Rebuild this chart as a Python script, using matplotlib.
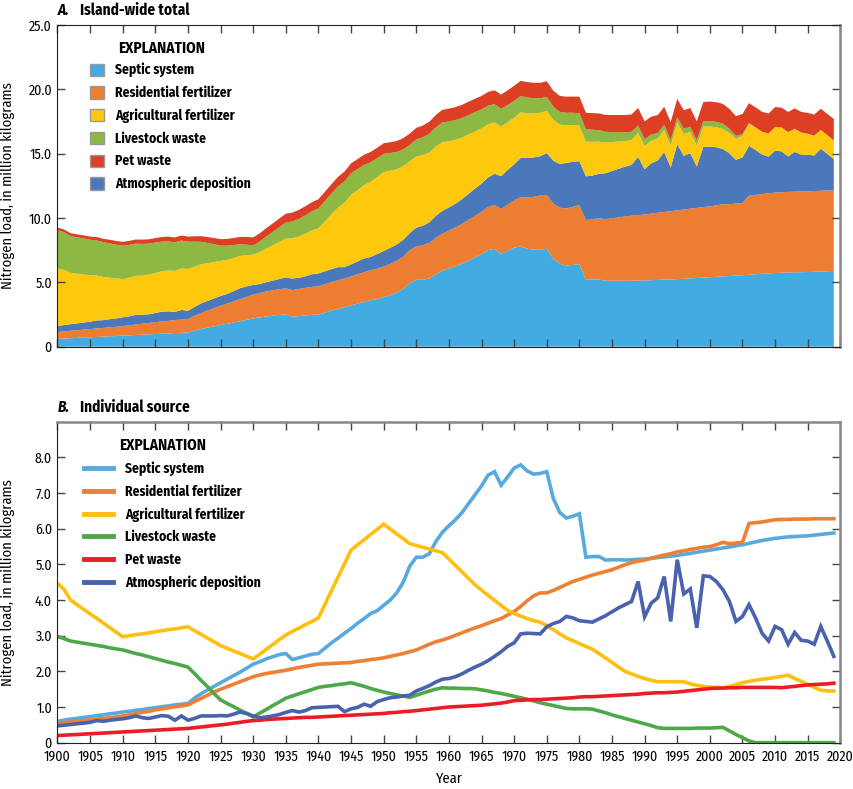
import numpy as np
import matplotlib
matplotlib.use("Agg")
import matplotlib.pyplot as plt
from matplotlib.patches import Patch
from matplotlib.lines import Line2D
from matplotlib.ticker import FuncFormatter, MultipleLocator

plt.rcParams['font.family'] = ['Fira Sans Condensed', 'DejaVu Sans']

years = np.arange(1900, 2020)

# nitrogen load by source, million kg
septic = [0.60, 0.63, 0.66, 0.68, 0.71, 0.73, 0.76, 0.78, 0.81, 0.83,
          0.86, 0.88, 0.91, 0.93, 0.96, 0.98, 1.01, 1.03, 1.06, 1.08,
          1.10, 1.25, 1.37, 1.48, 1.58, 1.68, 1.78, 1.88, 1.98, 2.09,
          2.20, 2.27, 2.35, 2.41, 2.47, 2.50, 2.33, 2.38, 2.43, 2.48,
          2.50, 2.65, 2.80, 2.93, 3.07, 3.20, 3.35, 3.48, 3.62, 3.70,
          3.85, 4.00, 4.20, 4.50, 4.95, 5.20, 5.20, 5.30, 5.64, 5.90,
          6.08, 6.25, 6.45, 6.70, 6.95, 7.20, 7.50, 7.60, 7.22, 7.45,
          7.70, 7.79, 7.62, 7.53, 7.55, 7.60, 6.85, 6.45, 6.30, 6.35,
          6.42, 5.20, 5.22, 5.22, 5.12, 5.13, 5.13, 5.12, 5.13, 5.14,
          5.15, 5.17, 5.19, 5.21, 5.23, 5.25, 5.28, 5.31, 5.34, 5.37,
          5.40, 5.43, 5.46, 5.49, 5.52, 5.55, 5.59, 5.63, 5.67, 5.70,
          5.73, 5.75, 5.77, 5.78, 5.79, 5.80, 5.82, 5.84, 5.86, 5.88]

residential = [0.54, 0.56, 0.58, 0.60, 0.62, 0.64, 0.66, 0.68, 0.70, 0.72,
               0.75, 0.78, 0.82, 0.85, 0.88, 0.92, 0.95, 0.98, 1.01, 1.03,
               1.06, 1.15, 1.24, 1.33, 1.42, 1.50, 1.57, 1.64, 1.71, 1.78,
               1.85, 1.90, 1.94, 1.97, 2.00, 2.03, 2.07, 2.11, 2.14, 2.17,
               2.20, 2.21, 2.22, 2.23, 2.24, 2.25, 2.28, 2.30, 2.33, 2.35,
               2.38, 2.42, 2.46, 2.50, 2.55, 2.60, 2.68, 2.76, 2.83, 2.88,
               2.94, 3.01, 3.08, 3.15, 3.22, 3.28, 3.35, 3.42, 3.48, 3.58,
               3.68, 3.82, 3.98, 4.12, 4.20, 4.20, 4.27, 4.35, 4.44, 4.52,
               4.58, 4.64, 4.70, 4.75, 4.80, 4.85, 4.92, 4.99, 5.05, 5.09,
               5.12, 5.17, 5.22, 5.26, 5.30, 5.35, 5.38, 5.42, 5.45, 5.48,
               5.50, 5.55, 5.62, 5.58, 5.60, 5.62, 6.15, 6.17, 6.19, 6.22,
               6.25, 6.26, 6.26, 6.27, 6.27, 6.27, 6.28, 6.28, 6.28, 6.28]

agricultural = [4.47, 4.30, 4.00, 3.87, 3.74, 3.61, 3.49, 3.36, 3.23, 3.10,
                2.97, 3.00, 3.03, 3.05, 3.08, 3.11, 3.14, 3.17, 3.19, 3.22,
                3.25, 3.14, 3.04, 2.93, 2.83, 2.72, 2.65, 2.57, 2.50, 2.42,
                2.35, 2.48, 2.62, 2.75, 2.89, 3.02, 3.12, 3.21, 3.31, 3.40,
                3.50, 3.88, 4.26, 4.64, 5.02, 5.40, 5.55, 5.69, 5.84, 5.98,
                6.13, 5.99, 5.85, 5.72, 5.58, 5.53, 5.48, 5.43, 5.38, 5.33,
                5.15, 4.97, 4.79, 4.61, 4.43, 4.28, 4.13, 3.99, 3.85, 3.71,
                3.62, 3.55, 3.48, 3.42, 3.38, 3.28, 3.17, 3.05, 2.94, 2.86,
                2.78, 2.70, 2.62, 2.50, 2.38, 2.25, 2.12, 2.00, 1.93, 1.86,
                1.80, 1.75, 1.71, 1.71, 1.71, 1.71, 1.71, 1.65, 1.61, 1.58,
                1.56, 1.55, 1.54, 1.58, 1.63, 1.68, 1.72, 1.75, 1.78, 1.80,
                1.83, 1.86, 1.89, 1.80, 1.72, 1.63, 1.55, 1.47, 1.45, 1.45]

livestock = [2.98, 2.92, 2.85, 2.82, 2.79, 2.76, 2.73, 2.70, 2.66, 2.63,
             2.60, 2.55, 2.50, 2.46, 2.41, 2.36, 2.31, 2.26, 2.22, 2.17,
             2.12, 1.94, 1.75, 1.57, 1.38, 1.20, 1.10, 1.01, 0.91, 0.82,
             0.72, 0.83, 0.93, 1.04, 1.14, 1.25, 1.31, 1.37, 1.43, 1.49,
             1.55, 1.58, 1.60, 1.63, 1.65, 1.68, 1.63, 1.58, 1.52, 1.47,
             1.42, 1.38, 1.34, 1.31, 1.27, 1.33, 1.39, 1.45, 1.50, 1.54,
             1.53, 1.53, 1.52, 1.52, 1.51, 1.48, 1.45, 1.41, 1.38, 1.34,
             1.30, 1.26, 1.22, 1.17, 1.12, 1.08, 1.04, 1.00, 0.96, 0.95,
             0.95, 0.95, 0.94, 0.89, 0.84, 0.78, 0.73, 0.68, 0.63, 0.58,
             0.53, 0.48, 0.42, 0.40, 0.40, 0.40, 0.40, 0.40, 0.41, 0.41,
             0.41, 0.42, 0.43, 0.33, 0.23, 0.14, 0.05, 0.00, 0.00, 0.00,
             0.00, 0.00, 0.00, 0.00, 0.00, 0.00, 0.00, 0.00, 0.00, 0.00]

pet = [0.20, 0.21, 0.22, 0.23, 0.24, 0.25, 0.26, 0.27, 0.28, 0.29,
       0.30, 0.31, 0.32, 0.33, 0.34, 0.35, 0.36, 0.37, 0.38, 0.39,
       0.40, 0.42, 0.44, 0.46, 0.48, 0.50, 0.52, 0.55, 0.57, 0.60,
       0.62, 0.63, 0.65, 0.66, 0.67, 0.68, 0.69, 0.70, 0.71, 0.71,
       0.72, 0.73, 0.74, 0.75, 0.76, 0.77, 0.78, 0.79, 0.80, 0.81,
       0.82, 0.84, 0.85, 0.87, 0.88, 0.90, 0.92, 0.94, 0.96, 0.98,
       1.00, 1.01, 1.02, 1.03, 1.04, 1.05, 1.07, 1.09, 1.11, 1.14,
       1.18, 1.19, 1.20, 1.21, 1.21, 1.22, 1.23, 1.24, 1.25, 1.26,
       1.28, 1.29, 1.29, 1.30, 1.31, 1.32, 1.33, 1.34, 1.35, 1.36,
       1.38, 1.39, 1.40, 1.40, 1.41, 1.42, 1.44, 1.46, 1.48, 1.50,
       1.52, 1.53, 1.53, 1.54, 1.54, 1.55, 1.55, 1.55, 1.55, 1.55,
       1.55, 1.54, 1.56, 1.58, 1.60, 1.62, 1.63, 1.64, 1.65, 1.67]

atmospheric = [0.47, 0.49, 0.51, 0.53, 0.55, 0.57, 0.62, 0.60, 0.63, 0.65,
               0.67, 0.70, 0.75, 0.70, 0.68, 0.72, 0.76, 0.74, 0.63, 0.75,
               0.63, 0.68, 0.75, 0.75, 0.75, 0.76, 0.75, 0.80, 0.86, 0.82,
               0.75, 0.70, 0.72, 0.75, 0.79, 0.85, 0.90, 0.86, 0.90, 0.98,
               0.99, 1.00, 1.01, 1.02, 0.87, 0.95, 0.99, 1.08, 1.02, 1.15,
               1.21, 1.26, 1.28, 1.31, 1.33, 1.45, 1.52, 1.60, 1.70, 1.78,
               1.80, 1.85, 1.93, 2.03, 2.12, 2.20, 2.30, 2.42, 2.55, 2.70,
               2.80, 3.05, 3.07, 3.06, 3.05, 3.25, 3.34, 3.40, 3.54, 3.50,
               3.42, 3.40, 3.38, 3.47, 3.56, 3.67, 3.78, 3.87, 3.96, 4.52,
               3.53, 3.91, 4.06, 4.66, 3.40, 5.13, 4.17, 4.31, 3.22, 4.68,
               4.66, 4.52, 4.29, 3.96, 3.40, 3.54, 3.87, 3.50, 3.07, 2.85,
               3.26, 3.17, 2.76, 3.09, 2.87, 2.85, 2.76, 3.26, 2.85, 2.42]

names = ['Septic system', 'Residential fertilizer', 'Agricultural fertilizer',
         'Livestock waste', 'Pet waste', 'Atmospheric deposition']
area_colors = ['#42ace2', '#ec7d31', '#fec80c', '#8db843', '#dc3f24', '#4a78ba']
line_colors = ['#58aade', '#ee7f33', '#ffbf10', '#4ea84a', '#ec1c26', '#4a62ad']
series = [septic, residential, agricultural, livestock, pet, atmospheric]

fig = plt.figure(figsize=(8.54, 7.89), dpi=100)
ax1 = fig.add_axes([0.0673, 0.5606, 0.9167, 0.4077])
ax2 = fig.add_axes([0.0673, 0.0587, 0.9167, 0.4068])

# stacking order in panel A: septic, residential, atmospheric, agricultural, livestock, pet
order = [0, 1, 5, 2, 3, 4]
ax1.stackplot(years, [series[i] for i in order],
              colors=[area_colors[i] for i in order], linewidth=0)

for s, c in zip(series, line_colors):
    ax2.plot(years, s, color=c, lw=2.6, solid_joinstyle='miter')

fmt = FuncFormatter(lambda v, p: '0' if v == 0 else f'{v:.1f}')
for ax in (ax1, ax2):
    ax.set_xlim(1900, 2020)
    ax.xaxis.set_major_locator(MultipleLocator(5))
    ax.yaxis.set_major_formatter(fmt)
    ax.tick_params(axis='x', which='both', direction='in', top=True, bottom=True,
                   length=6, width=1, color='#444444', labelsize=10, pad=5)
    ax.tick_params(axis='y', which='both', direction='in', left=True, right=True,
                   length=6, width=1, color='#444444', labelsize=10, pad=4)
    for sp in ('left', 'bottom'):
        ax.spines[sp].set_color('#222222')
    ax.spines['right'].set_color('#888888')
    ax.spines['right'].set_linewidth(1.8)
    ax.set_ylabel('Nitrogen load, in million kilograms', fontsize=10.5)
    ax.yaxis.set_label_coords(-0.054, 0.5)

ax1.spines['top'].set_color('#222222')
ax2.spines['top'].set_color('#888888')
ax2.spines['top'].set_linewidth(1.8)

ax1.set_ylim(0, 25)
ax1.yaxis.set_major_locator(MultipleLocator(5))
ax1.tick_params(axis='x', labelbottom=False)
ax2.set_ylim(0, 9)
ax2.set_yticks(np.arange(0, 9))
ax2.set_xlabel('Year', fontsize=10.5)
ax2.xaxis.set_label_coords(0.5, -0.09)

# panel titles
fig.text(0.068, 0.987, 'A.', fontsize=11, fontweight='bold', style='italic', va='center')
fig.text(0.094, 0.987, 'Island-wide total', fontsize=11, fontweight='bold', va='center')
fig.text(0.068, 0.484, 'B.', fontsize=11, fontweight='bold', style='italic', va='center')
fig.text(0.094, 0.484, 'Individual source', fontsize=11, fontweight='bold', va='center')

# legends
ax1.text(0.0773, 0.9285, 'EXPLANATION', transform=ax1.transAxes, fontsize=11,
         fontweight='bold', va='center')
h1 = [Patch(facecolor=area_colors[i], edgecolor='#999999', linewidth=1) for i in range(6)]
ax1.legend(h1, names, loc='upper left', bbox_to_anchor=(0.0415, 0.882), frameon=False,
           borderpad=0, borderaxespad=0, handlelength=1.0, handleheight=1.0,
           handletextpad=0.85, labelspacing=0.62, prop={'weight': 'bold', 'size': 9.8})

ax2.text(0.0785, 0.9274, 'EXPLANATION', transform=ax2.transAxes, fontsize=11,
         fontweight='bold', va='center')
h2 = [Line2D([0], [0], color=line_colors[i], lw=3.5) for i in range(6)]
ax2.legend(h2, names, loc='upper left', bbox_to_anchor=(0.0338, 0.876), frameon=False,
           borderpad=0, borderaxespad=0, handlelength=2.1,
           handletextpad=0.95, labelspacing=0.62, prop={'weight': 'bold', 'size': 9.8})

fig.savefig('out.png', dpi=100)
